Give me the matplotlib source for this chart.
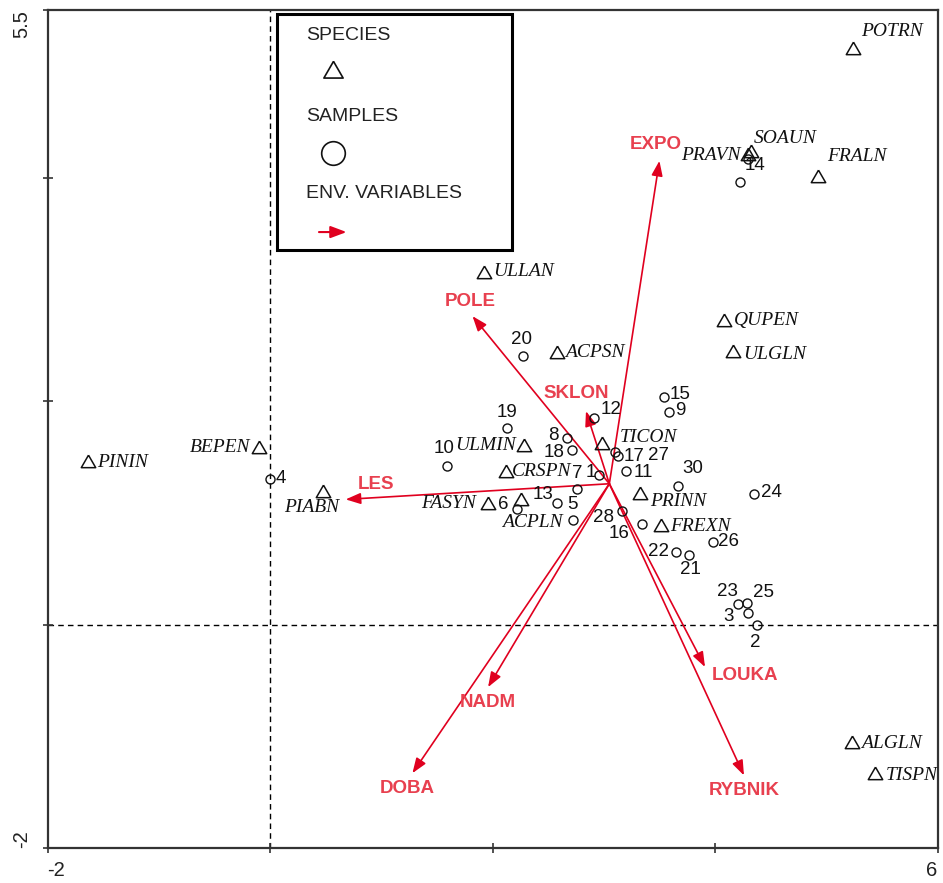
import matplotlib.pyplot as plt
from matplotlib.patches import Rectangle

# species scores (axis 1, axis 2)
species = ['POTRN', 'SOAUN', 'PRAVN', 'FRALN', 'ULLAN', 'QUPEN', 'ULGLN', 'ACPSN',
           'TICON', 'ULMIN', 'CRSPN', 'FASYN', 'ACPLN', 'PRINN', 'FREXN', 'PININ',
           'BEPEN', 'PIABN', 'ALGLN', 'TISPN']
species_x = [5.24, 4.32, 4.30, 4.93, 1.92, 4.08, 4.16, 2.58,
             2.98, 2.28, 2.12, 1.96, 2.26, 3.33, 3.51, -1.64,
             -0.10, 0.48, 5.23, 5.44]
species_y = [5.14, 4.22, 4.19, 4.00, 3.14, 2.71, 2.43, 2.42,
             1.61, 1.59, 1.36, 1.07, 1.11, 1.16, 0.87, 1.45,
             1.57, 1.18, -1.07, -1.35]

# sample scores
samples = ['1', '2', '3', '4', '5', '6', '7', '8', '9', '10',
           '11', '12', '13', '14', '15', '16', '17', '18', '19', '20',
           '21', '22', '23', '24', '25', '26', '27', '28', '29', '30']
samples_x = [2.96, 4.38, 4.30, 0.00, 2.72, 2.22, 2.76, 2.67, 3.59, 1.59,
             3.20, 2.91, 2.58, 4.30, 3.54, 3.34, 3.10, 2.71, 2.13, 2.27,
             3.77, 3.65, 4.21, 4.35, 4.29, 3.98, 3.13, 3.16, 4.22, 3.67]
samples_y = [1.34, 0.00, 0.10, 1.30, 0.94, 1.03, 1.21, 1.67, 1.90, 1.42,
             1.37, 1.85, 1.09, 4.17, 2.04, 0.90, 1.54, 1.56, 1.76, 2.40,
             0.62, 0.65, 0.18, 1.17, 0.19, 0.74, 1.51, 1.02, 3.96, 1.24]

# environmental variables (arrow tips), all drawn from a common start point
env_vars = ['EXPO', 'POLE', 'SKLON', 'LES', 'NADM', 'DOBA', 'LOUKA', 'RYBNIK']
env_x = [3.50, 1.82, 2.84, 0.68, 1.96, 1.28, 3.91, 4.26]
env_y = [4.15, 2.76, 1.91, 1.12, -0.56, -1.33, -0.38, -1.35]
env_origin = (3.05, 1.26)

# label placement (pixel offsets, alignment)
species_off = {
    'POTRN': (8, 19, 'left'), 'SOAUN': (3, 15, 'left'), 'PRAVN': (-8, 1, 'right'),
    'FRALN': (9, 21, 'left'), 'ULLAN': (10, 2, 'left'), 'QUPEN': (10, 1, 'left'),
    'ULGLN': (10, -1, 'left'), 'ACPSN': (8, 2, 'left'), 'TICON': (18, 7, 'left'),
    'ULMIN': (-8, 1, 'right'), 'CRSPN': (6, 1, 'left'), 'FASYN': (-12, 1, 'right'),
    'ACPLN': (11, -22, 'center'), 'PRINN': (10, -7, 'left'), 'FREXN': (10, 1, 'left'),
    'PININ': (10, 0, 'left'), 'BEPEN': (-9, 2, 'right'), 'PIABN': (-12, -15, 'center'),
    'ALGLN': (9, 1, 'left'), 'TISPN': (10, 0, 'left'),
}
sample_off = {
    '1': (-9, 2), '2': (-2, -18), '3': (-20, -3), '4': (11, 1), '5': (0, 15),
    '6': (-14, 5), '7': (0, 16), '8': (-14, 2), '9': (11, 2), '10': (-3, 17),
    '11': (17, -1), '12': (17, 8), '13': (-14, 8), '14': (7, -7), '15': (16, 2),
    '16': (-23, -10), '17': (19, -4), '18': (-17, -2), '19': (0, 15), '20': (-1, 17),
    '21': (1, -14), '22': (-18, 0), '23': (-11, 13), '24': (17, 1), '25': (16, 11),
    '26': (16, 0), '27': (40, 0), '28': (-18, -7), '30': (14, 17),
}
env_off = {
    'EXPO': (-4, 16), 'POLE': (-2, 15), 'SKLON': (-10, 18), 'LES': (30, 15),
    'NADM': (0, -15), 'DOBA': (-5, -15), 'LOUKA': (40, -8), 'RYBNIK': (0, -15),
}

ARROW = '#e0001f'
ARROW_TXT = '#e8404f'
TRI = [(0, 1), (-0.866, -0.5), (0.866, -0.5), (0, 1)]
SERIF = 'Liberation Serif'
SANS = 'Liberation Sans'

fig = plt.figure(figsize=(9.43, 8.83), dpi=100)
ax = fig.add_axes([0.0504, 0.0396, 0.9438, 0.9491])
ax.set_xlim(-2, 6)
ax.set_ylim(-2, 5.5)

ax.axhline(0, color='k', lw=1, ls=(0, (4, 3)), zorder=1)
ax.axvline(0, color='k', lw=1, ls=(0, (4, 3)), zorder=1)

# environmental arrows
for name, x, y in zip(env_vars, env_x, env_y):
    ax.annotate('', xy=(x, y), xytext=env_origin,
                arrowprops=dict(arrowstyle='-|>,head_length=0.75,head_width=0.28',
                                color=ARROW, lw=1.2, shrinkA=0, shrinkB=0,
                                mutation_scale=12), zorder=2)
    dx, dy = env_off[name]
    ax.annotate(name, (x, y), xytext=(dx, dy), textcoords='offset pixels',
                ha='center', va='center', color=ARROW_TXT, fontsize=13.5,
                fontweight='bold', family=SANS, zorder=4)

# species
ax.plot(species_x, species_y, ls='none', marker=TRI, ms=12, mfc='none',
        mec='#111111', mew=1.1, zorder=3)
for name, x, y in zip(species, species_x, species_y):
    dx, dy, ha = species_off[name]
    ax.annotate(name, (x, y), xytext=(dx, dy), textcoords='offset pixels',
                ha=ha, va='center', fontsize=14, style='italic', family=SERIF,
                color='#111111', zorder=4)

# samples
ax.plot(samples_x, samples_y, ls='none', marker='o', ms=6.5, mfc='none',
        mec='#111111', mew=1.0, zorder=3)
for name, x, y in zip(samples, samples_x, samples_y):
    if name not in sample_off:
        continue
    dx, dy = sample_off[name]
    ax.annotate(name, (x, y), xytext=(dx, dy), textcoords='offset pixels',
                ha='center', va='center', fontsize=13.5, family=SANS,
                color='#111111', zorder=4)

# key box
ax.add_patch(Rectangle((0.258, 0.7136), 0.264, 0.2816, transform=ax.transAxes,
                       facecolor='white', edgecolor='black', lw=2.2, zorder=5))
key_txt = dict(transform=ax.transAxes, fontsize=14, family=SANS, color='#222222',
               va='center', ha='left', zorder=6)
ax.text(0.2904, 0.969, 'SPECIES', **key_txt)
ax.text(0.2904, 0.8723, 'SAMPLES', **key_txt)
ax.text(0.2904, 0.7816, 'ENV. VARIABLES', **key_txt)
ax.plot([0.3208], [0.926], transform=ax.transAxes, marker=TRI, ms=16, mfc='none',
        mec='#111111', mew=1.2, zorder=6, clip_on=False)
ax.plot([0.3208], [0.8294], transform=ax.transAxes, marker='o', ms=17, mfc='none',
        mec='#111111', mew=1.2, zorder=6, clip_on=False)
ax.annotate('', xy=(0.336, 0.735), xytext=(0.305, 0.735), xycoords='axes fraction',
            arrowprops=dict(arrowstyle='-|>,head_length=0.8,head_width=0.3',
                            color=ARROW, lw=1.5, shrinkA=0, shrinkB=0,
                            mutation_scale=12), zorder=6)

# axes frame and sparse tick labels
for sp in ax.spines.values():
    sp.set_color('#333333')
    sp.set_linewidth(1.6)
ax.set_xticks([-2, 0, 2, 4, 6])
ax.set_xticklabels(['-2', '', '', '', '6'], fontsize=14.5, family=SANS, color='#222222')
ax.set_yticks([-2, 0, 2, 4, 5.5])
ax.set_yticklabels(['-2', '', '', '', '5.5'], fontsize=14.5, family=SANS,
                   color='#222222', rotation=90)
ax.tick_params(direction='inout', length=7, width=1.2, color='#333333')
ax.tick_params(axis='x', pad=6)
ax.tick_params(axis='y', pad=8)
xl = ax.get_xticklabels()
xl[0].set_ha('left')
xl[-1].set_ha('right')
yl = ax.get_yticklabels()
yl[0].set_va('bottom')
yl[-1].set_va('top')

fig.savefig('out.png', dpi=100)
